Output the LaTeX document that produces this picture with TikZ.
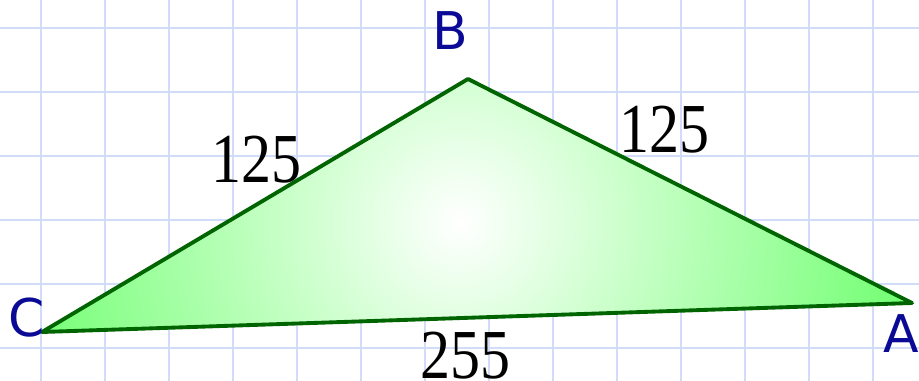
\documentclass[tikz,border=0pt]{standalone}
\usepackage{fontspec}
\usepackage{graphicx}
\newfontfamily\numfont{Liberation Serif}
\newfontfamily\letfont{DejaVu Sans}
\definecolor{gridc}{HTML}{D0DCF8}
\definecolor{edgec}{HTML}{006400}
\definecolor{labc}{HTML}{0A0A96}
\newcommand{\tallnum}[1]{\scalebox{1}[1.17]{#1}}
\begin{document}
\begin{tikzpicture}[x=0.75pt,y=-0.75pt,
  gridline/.style={draw=gridc,line width=1pt},
  edge/.style={draw=edgec,line width=2.9pt,line join=round},
  vlabel/.style={inner sep=0pt,text=labc,font=\letfont\fontsize{39}{39}\selectfont},
  slabel/.style={inner sep=0pt,text=black,font=\numfont\fontsize{45}{45}\selectfont}]
\useasboundingbox[fill=white] (0,0) rectangle (919,381);
\foreach \k in {0,...,13} \draw[gridline] ({41+64*\k},0) -- ({41+64*\k},381);
\foreach \k in {0,...,5} \draw[gridline] (0,{28+64*\k}) -- (919,{28+64*\k});
\coordinate (C) at (42,332);
\coordinate (B) at (468,79);
\coordinate (A) at (912,303);
\coordinate (O) at (460,222);
\begin{scope}
\clip (C) -- (B) -- (A) -- cycle;
\shade[inner color=white,outer color=green] (O) circle (820);
\end{scope}
\draw[edge] (C) -- (B) -- (A) -- cycle;
\node[vlabel] (lB) at (450,31) {B};
\node[vlabel] (lC) at (27,318) {C};
\node[vlabel] (lA) at (901,334) {A};
\node[slabel] (sCB) at (256,160) {\tallnum{125}};
\node[slabel] (sBA) at (664,130) {\tallnum{125}};
\node[slabel] (sCA) at (465,355.5) {\tallnum{255}};
\end{tikzpicture}
\end{document}
